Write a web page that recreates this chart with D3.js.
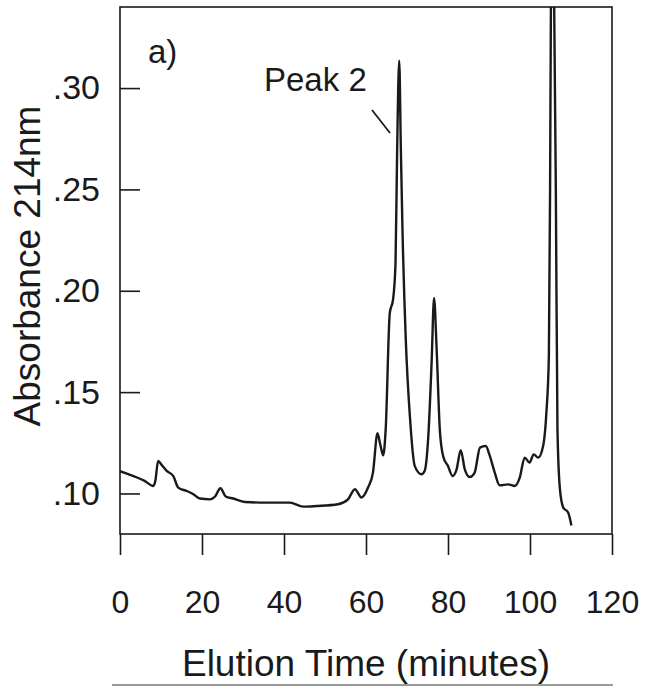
<!DOCTYPE html>
<html>
<head>
<meta charset="utf-8">
<script src="https://cdn.jsdelivr.net/npm/d3@7"></script>
<style>
  html, body { margin: 0; padding: 0; background: #fff; }
  svg { display: block; }
  text { font-family: "Liberation Sans", Arial, Helvetica, sans-serif; fill: #1a1a1a; }
</style>
</head>
<body>
<svg id="chart" width="646" height="686"></svg>
<script>
// Chromatogram trace: elution time (min) and absorbance at 214 nm
const elutionTimes = [
  0, 2, 4, 6, 8.1, 8.6, 9.3, 10.2, 11.4, 13, 14.2, 16.3, 17.9, 19.5, 21.9, 23.2,
  24.5, 25.8, 27.6, 30.5, 35.8, 41.4, 44.7, 47.9, 53.2, 55.6, 57.3, 58.9, 60.5,
  61.7, 62.8, 63.5, 64.2, 64.8, 65.8, 66.6, 67.2, 67.6, 68.1, 68.5, 68.9, 69.7,
  70.7, 71.9, 73.5, 74.3, 75.2, 76.0, 76.6, 77.2, 78.0, 78.8, 80.0, 81.1, 82.1,
  83.1, 84.1, 85.3, 86.5, 87.8, 89.2, 90.2, 91.4, 92.6, 94.7, 96.3, 97.5, 98.7,
  99.9, 100.9, 102.0, 103.2, 104.0, 104.6, 104.9, 105.1, 105.5, 105.9, 106.3,
  106.7, 107.3, 108.1, 109.3, 110.1
];
const absorbance = [
  0.111, 0.1095, 0.108, 0.1062, 0.1037, 0.106, 0.116, 0.114, 0.1111, 0.1086, 0.1029,
  0.1012, 0.0996, 0.0975, 0.0971, 0.0985, 0.1026, 0.0985, 0.0975, 0.0958, 0.0955,
  0.0955, 0.0935, 0.0938, 0.0947, 0.0971, 0.1021, 0.098, 0.1029, 0.1103, 0.1297,
  0.124, 0.1188, 0.1316, 0.189, 0.1957, 0.2137, 0.27, 0.3135, 0.27, 0.230, 0.176,
  0.1382, 0.1135, 0.1095, 0.1111, 0.1283, 0.1645, 0.1965, 0.1727, 0.1316, 0.1185,
  0.1135, 0.1086, 0.1119, 0.1214, 0.1119, 0.1081, 0.1103, 0.1226, 0.1234, 0.1185,
  0.1103, 0.1040, 0.1045, 0.1037, 0.1078, 0.1177, 0.1152, 0.1193, 0.1177, 0.1234,
  0.14, 0.1677, 0.25, 0.34, 0.38, 0.34, 0.25, 0.1316, 0.1021, 0.0931, 0.0906, 0.0842
];
const xTicks = [0, 20, 40, 60, 80, 100, 120];
const yTicks = [0.10, 0.15, 0.20, 0.25, 0.30];
const xDomain = [0, 120];
const yDomain = [0.08, 0.34];

const svg = d3.select("#chart");
const plotLeft = 120, plotRight = 612, plotTop = 7, plotBottom = 534;

const x = d3.scaleLinear().domain(xDomain).range([plotLeft, plotRight]);
const y = d3.scaleLinear().domain(yDomain).range([plotBottom, plotTop]);

svg.append("defs").append("clipPath").attr("id", "plotClip")
  .append("rect").attr("x", plotLeft).attr("y", plotTop)
  .attr("width", plotRight - plotLeft).attr("height", plotBottom - plotTop);

// Bottom axis: ticks hang below the plot
const xAxis = svg.append("g")
  .attr("transform", `translate(0,${plotBottom})`)
  .call(d3.axisBottom(x).tickValues(xTicks).tickFormat(d3.format("d"))
    .tickSize(21).tickPadding(35));
xAxis.select(".domain").remove();
xAxis.selectAll("line").attr("stroke", "#1a1a1a").attr("stroke-width", 1.6);
xAxis.selectAll("text").attr("font-size", 32).attr("fill", "#1a1a1a")
  .attr("font-family", "Liberation Sans, Arial, sans-serif");

// Left axis: ticks point into the plot
const fmtY = v => d3.format(".2f")(v).replace(/^0/, "");
const yAxis = svg.append("g")
  .attr("transform", `translate(${plotLeft},0)`)
  .call(d3.axisLeft(y).tickValues(yTicks).tickFormat(fmtY)
    .tickSize(-20).tickPadding(20));
yAxis.select(".domain").remove();
yAxis.selectAll("line").attr("stroke", "#1a1a1a").attr("stroke-width", 1.6);
yAxis.selectAll("text").attr("font-size", 34).attr("fill", "#1a1a1a")
  .attr("font-family", "Liberation Sans, Arial, sans-serif");

// Plot frame
svg.append("rect")
  .attr("x", plotLeft).attr("y", plotTop)
  .attr("width", plotRight - plotLeft).attr("height", plotBottom - plotTop)
  .attr("fill", "none").attr("stroke", "#1a1a1a").attr("stroke-width", 1.6);

// Trace
const pts = elutionTimes.map((t, i) => [t, absorbance[i]]);
const line = d3.line().x(d => x(d[0])).y(d => y(d[1])).curve(d3.curveMonotoneX);
svg.append("path")
  .datum(pts)
  .attr("clip-path", "url(#plotClip)")
  .attr("d", line)
  .attr("fill", "none").attr("stroke", "#1a1a1a")
  .attr("stroke-width", 2.4).attr("stroke-linejoin", "round");

// Annotations
svg.append("text").attr("x", 148).attr("y", 63).attr("font-size", 33).text("a)");
svg.append("text").attr("x", 264).attr("y", 91).attr("font-size", 33).text("Peak 2");
svg.append("line")
  .attr("x1", 372).attr("y1", 110).attr("x2", 390).attr("y2", 133)
  .attr("stroke", "#1a1a1a").attr("stroke-width", 1.8);

// Axis titles
svg.append("text")
  .attr("transform", `translate(40,266) rotate(-90)`)
  .attr("text-anchor", "middle").attr("font-size", 37)
  .text("Absorbance 214nm");
svg.append("text")
  .attr("x", 366).attr("y", 676)
  .attr("text-anchor", "middle").attr("font-size", 37)
  .text("Elution Time (minutes)");

// Rule under the axis title
svg.append("line")
  .attr("x1", 112).attr("x2", 613).attr("y1", 685).attr("y2", 685)
  .attr("stroke", "#9a9a9a").attr("stroke-width", 2);
</script>
</body>
</html>
